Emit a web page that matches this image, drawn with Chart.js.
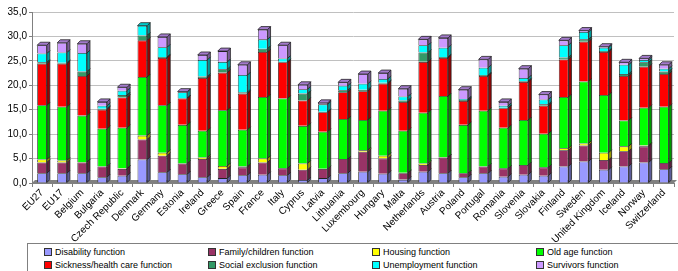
<!DOCTYPE html>
<html>
<head>
<meta charset="utf-8">
<script src="https://cdn.jsdelivr.net/npm/chart.js@4"></script>
<style>
    html, body { margin: 0; padding: 0; background: #fff; }
    body { width: 678px; height: 271px; position: relative; overflow: hidden; font-family: "Liberation Sans", Arial, sans-serif; }
    #chart-box { position: absolute; left: 0; top: 0; width: 678px; height: 243px; }
    #legend {
        position: absolute; left: 27px; top: 243px; width: 680px; height: 40px;
        border-top: 1px solid #808080; border-left: 1px solid #808080;
        display: grid; grid-template-columns: 164px 164px 164px 164px;
        grid-auto-rows: 12.5px; padding: 2px 0 0 16px; box-sizing: border-box;
        font-size: 9px; color: #000;
    }
    #legend .item { display: flex; align-items: center; white-space: nowrap; }
    #legend .swatch { width: 6px; height: 6px; border: 1px solid #333; margin-right: 3px; }
</style>
</head>
<body>
<div id="chart-box"><canvas id="social-chart"></canvas></div>
<div id="legend"></div>
<script>
// Pays / agrégats (axe des catégories)
const countries = ['EU27', 'EU17', 'Belgium', 'Bulgaria', 'Czech Republic', 'Denmark', 'Germany', 'Estonia',
    'Ireland', 'Greece', 'Spain', 'France', 'Italy', 'Cyprus', 'Latvia', 'Lithuania', 'Luxembourg', 'Hungary',
    'Malta', 'Netherlands', 'Austria', 'Poland', 'Portugal', 'Romania', 'Slovenia', 'Slovakia', 'Finland',
    'Sweden', 'United Kingdom', 'Iceland', 'Norway', 'Switzerland'];

// Valeurs par fonction
const disability   = [2.0, 2.0, 2.0, 1.2, 1.5, 4.8, 2.2, 1.8, 1.2, 1.0, 1.6, 1.7, 1.6, 0.6, 1.0, 2.0, 2.3, 1.9, 0.7, 2.3, 2.0, 1.2, 2.0, 1.3, 1.7, 1.5, 3.4, 4.4, 2.7, 3.4, 4.2, 2.8];
const family       = [2.2, 2.2, 2.2, 2.2, 1.4, 4.1, 3.4, 2.2, 3.7, 1.9, 1.6, 2.5, 1.4, 2.1, 1.9, 2.9, 4.1, 3.1, 1.3, 1.4, 3.2, 0.8, 1.4, 1.7, 2.0, 1.7, 3.3, 3.3, 2.0, 3.1, 3.3, 1.3];
const housing      = [0.6, 0.4, 0.1, 0.0, 0.1, 0.8, 0.6, 0.0, 0.3, 0.6, 0.2, 0.8, 0.0, 1.3, 0.0, 0.0, 0.3, 0.6, 0.1, 0.3, 0.1, 0.0, 0.0, 0.0, 0.0, 0.0, 0.4, 0.4, 1.5, 1.0, 0.2, 0.0];
const oldAge       = [11.1, 11.0, 9.5, 7.7, 8.3, 12.0, 9.7, 7.9, 5.5, 11.4, 7.5, 12.6, 14.3, 7.7, 7.6, 8.2, 6.2, 9.2, 8.6, 10.4, 12.5, 9.9, 11.4, 8.3, 9.2, 6.9, 10.5, 12.7, 11.8, 5.3, 7.7, 11.5];
const sickness     = [8.5, 8.8, 8.1, 3.9, 6.2, 7.5, 9.7, 5.4, 10.8, 7.7, 7.4, 9.2, 7.4, 5.2, 4.0, 5.5, 5.9, 5.5, 5.9, 10.4, 7.8, 4.9, 7.1, 4.0, 7.8, 5.7, 7.7, 8.1, 8.8, 9.1, 8.4, 6.7];
const socialExcl   = [0.3, 0.2, 0.9, 0.2, 0.5, 1.0, 0.2, 0.1, 0.3, 0.7, 0.3, 0.7, 0.1, 1.4, 0.1, 0.4, 0.3, 0.2, 0.3, 1.9, 0.2, 0.2, 0.2, 0.1, 0.2, 0.3, 0.4, 0.5, 0.2, 0.4, 0.9, 0.5];
const unemployment = [1.8, 2.1, 3.8, 0.6, 0.9, 2.0, 2.0, 1.2, 3.4, 1.5, 3.5, 1.9, 0.7, 0.9, 1.5, 0.9, 1.2, 0.8, 0.8, 1.5, 1.9, 0.2, 1.5, 0.4, 0.6, 1.0, 2.5, 1.5, 0.7, 1.9, 0.5, 0.6];
const survivors    = [1.7, 2.0, 1.9, 0.8, 0.7, 0.0, 2.1, 0.1, 1.0, 2.2, 2.1, 2.0, 2.7, 0.9, 0.3, 0.7, 2.0, 1.2, 1.6, 1.2, 2.0, 1.9, 1.7, 0.8, 1.9, 1.0, 1.0, 0.3, 0.2, 0.5, 0.3, 0.8];

// Graduations de l'axe Y
const yMax = 35;
const yStep = 5;

const series = [
    { label: 'Disability function', data: disability, color: '#9999FF' },
    { label: 'Family/children function', data: family, color: '#993366' },
    { label: 'Housing function', data: housing, color: '#FFFF00' },
    { label: 'Old age function', data: oldAge, color: '#00FF00' },
    { label: 'Sickness/health care function', data: sickness, color: '#FF0000' },
    { label: 'Social exclusion function', data: socialExcl, color: '#339966' },
    { label: 'Unemployment function', data: unemployment, color: '#00FFFF' },
    { label: 'Survivors function', data: survivors, color: '#CC99FF' }
];

const FONT = '"Liberation Sans", Arial, sans-serif';
const DEPTH_X = 3;
const DEPTH_Y = 3;

/**
 * Assombrit une couleur hex
 */
function darken(hex, f) {
    const n = parseInt(hex.slice(1), 16);
    const r = Math.round(((n >> 16) & 255) * f);
    const g = Math.round(((n >> 8) & 255) * f);
    const b = Math.round((n & 255) * f);
    return `rgb(${r}, ${g}, ${b})`;
}

// Plancher gris + faces latérales pour l'effet 3D
const pseudo3d = {
    id: 'pseudo3d',
    beforeDatasetsDraw(chart) {
        const { ctx, chartArea } = chart;
        const y0 = chart.scales.y.getPixelForValue(0);
        ctx.save();
        ctx.fillStyle = '#808080';
        ctx.beginPath();
        ctx.moveTo(chartArea.left, y0);
        ctx.lineTo(chartArea.right, y0);
        ctx.lineTo(chartArea.right + DEPTH_X, y0 - DEPTH_Y);
        ctx.lineTo(chartArea.left + DEPTH_X, y0 - DEPTH_Y);
        ctx.closePath();
        ctx.fill();
        ctx.restore();
    },
    afterDatasetsDraw(chart) {
        const { ctx } = chart;
        const n = chart.data.labels.length;
        ctx.save();
        ctx.lineWidth = 0.8;
        ctx.strokeStyle = '#222';
        chart.data.datasets.forEach((ds, di) => {
            const meta = chart.getDatasetMeta(di);
            meta.data.forEach((bar, i) => {
                if (!ds.data[i]) return;
                const right = bar.x + bar.width / 2;
                ctx.fillStyle = darken(series[di].color, 0.6);
                ctx.beginPath();
                ctx.moveTo(right, bar.y);
                ctx.lineTo(right + DEPTH_X, bar.y - DEPTH_Y);
                ctx.lineTo(right + DEPTH_X, bar.base - DEPTH_Y);
                ctx.lineTo(right, bar.base);
                ctx.closePath();
                ctx.fill();
                ctx.stroke();
            });
        });
        // Couvercle du segment le plus haut
        for (let i = 0; i < n; i++) {
            let top = -1;
            chart.data.datasets.forEach((ds, di) => { if (ds.data[i] > 0) top = di; });
            if (top < 0) continue;
            const bar = chart.getDatasetMeta(top).data[i];
            const left = bar.x - bar.width / 2;
            const right = bar.x + bar.width / 2;
            ctx.fillStyle = darken(series[top].color, 0.8);
            ctx.beginPath();
            ctx.moveTo(left, bar.y);
            ctx.lineTo(left + DEPTH_X, bar.y - DEPTH_Y);
            ctx.lineTo(right + DEPTH_X, bar.y - DEPTH_Y);
            ctx.lineTo(right, bar.y);
            ctx.closePath();
            ctx.fill();
            ctx.stroke();
        }
        ctx.restore();
    }
};

const chart = new Chart(document.getElementById('social-chart'), {
    type: 'bar',
    data: {
        labels: countries,
        datasets: series.map(s => ({
            label: s.label,
            data: s.data,
            backgroundColor: s.color,
            borderColor: '#222',
            borderWidth: 0.8,
            barPercentage: 0.48,
            categoryPercentage: 1
        }))
    },
    options: {
        responsive: true,
        maintainAspectRatio: false,
        animation: false,
        layout: { padding: { top: 12, right: 4, left: 0, bottom: 0 } },
        plugins: {
            legend: { display: false },
            tooltip: { enabled: false }
        },
        scales: {
            x: {
                stacked: true,
                afterFit: (scale) => { scale.height = 60; },
                grid: {
                    offset: true,
                    drawOnChartArea: false,
                    tickLength: 4,
                    color: '#808080'
                },
                border: { color: '#808080' },
                ticks: {
                    autoSkip: false,
                    maxRotation: 45,
                    minRotation: 45,
                    padding: 0,
                    color: '#000',
                    font: { family: FONT, size: 10 }
                }
            },
            y: {
                stacked: true,
                min: 0,
                max: yMax,
                afterFit: (scale) => { scale.width = 32; },
                grid: {
                    color: '#c0c0c0',
                    tickLength: 3,
                    tickColor: '#808080'
                },
                border: { color: '#808080' },
                ticks: {
                    stepSize: yStep,
                    padding: 2,
                    color: '#000',
                    font: { family: FONT, size: 10 },
                    callback: (v) => v.toFixed(1).replace('.', ',')
                }
            }
        }
    },
    plugins: [pseudo3d]
});

// Légende HTML en grille de 4 colonnes
const legendBox = document.getElementById('legend');
chart.data.datasets.forEach(ds => {
    const item = document.createElement('div');
    item.className = 'item';
    item.innerHTML = `<span class="swatch" style="background:${ds.backgroundColor}"></span>${ds.label}`;
    legendBox.appendChild(item);
});
</script>
</body>
</html>
